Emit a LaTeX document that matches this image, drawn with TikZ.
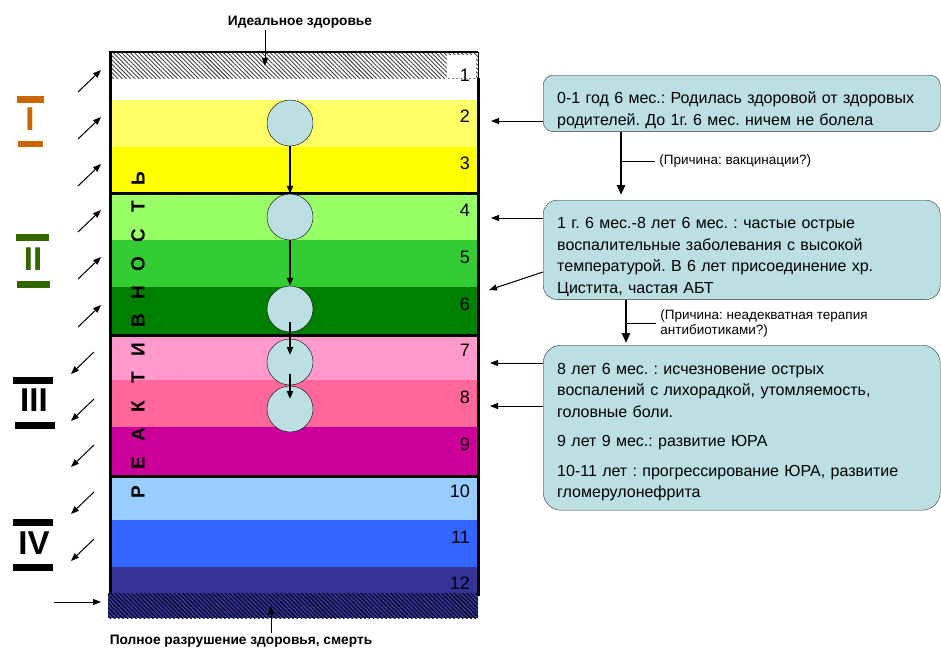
\documentclass[tikz,border=0pt]{standalone}
\usepackage{fontspec}
\setmainfont{Liberation Sans}
\usetikzlibrary{arrows.meta,patterns.meta}
\frenchspacing

\definecolor{celeste}{HTML}{BBDFE2}
\definecolor{fila1}{HTML}{FFFFFF}
\definecolor{fila2}{HTML}{FFFF66}
\definecolor{fila3}{HTML}{FFFF00}
\definecolor{fila4}{HTML}{99FF66}
\definecolor{fila5}{HTML}{33CC33}
\definecolor{fila6}{HTML}{008000}
\definecolor{fila7}{HTML}{FF99CC}
\definecolor{fila8}{HTML}{FF6699}
\definecolor{fila9}{HTML}{CC0099}
\definecolor{fila10}{HTML}{99CCFF}
\definecolor{fila11}{HTML}{3366FF}
\definecolor{fila12}{HTML}{333399}
\definecolor{naranja}{HTML}{CC6600}
\definecolor{verde}{HTML}{336600}

\begin{document}
\begin{tikzpicture}
  [x=1pt,y=-1pt,>={Triangle[length=8pt,width=6pt]},
   caja/.style={draw=black!80,fill=celeste,rounded corners=10pt,anchor=north west,
     align=left,text width=369pt,inner xsep=14pt,font=\fontsize{16}{21.5}\selectfont},
   bola/.style={circle,draw=black,fill=celeste,minimum size=46pt,inner sep=0pt},
   num/.style={anchor=east,inner sep=0pt,font=\fontsize{18}{18}\selectfont},
   letra/.style={rotate=90,inner sep=0pt,font=\bfseries\fontsize{19}{19}\selectfont},
   romano/.style={font=\bfseries\fontsize{33}{33}\selectfont,inner sep=0pt},
   titulo/.style={font=\bfseries\fontsize{13.7}{15}\selectfont,inner sep=2pt},
   causa/.style={anchor=west,align=left,inner sep=4pt,font=\fontsize{13.5}{15}\selectfont},
   flecha/.style={->,line width=1pt},
   gruesa/.style={->,line width=2.5pt,>={Triangle[length=10pt,width=8pt]}}]
  \useasboundingbox (0,0) rectangle (941,648);

  % Franjas de colores
  \foreach \n/\a/\b in {1/78/100,2/100/147,3/147/193,4/193/240,5/240/287,6/287/335,
    7/335/380,8/380/427,9/427/476,10/476/520,11/520/567,12/567/593}
    \fill[fila\n] (110,\a) rectangle (478,\b);

  % Bandas rayadas
  \fill[pattern={Lines[angle=-45,distance=3pt,line width=0.9pt]},pattern color=black!75] (110,52) rectangle (478,78);
  \fill[white] (447,55) rectangle (476,78);
  \fill[fila12] (108,593) rectangle (478,618);
  \fill[pattern={Lines[angle=-45,distance=3pt,line width=0.9pt]},pattern color=black] (108,593) rectangle (478,618);

  % Bordes y separaciones
  \draw[line width=1.5pt] (109,52) -- (478,52);
  \draw[line width=3pt] (110,52) -- (110,594);
  \draw[line width=3pt] (478,78) -- (478,596);
  \draw[line width=0.8pt] (478,52) -- (478,78);
  \foreach \y in {193,335,476}
    \draw[line width=3pt] (112,\y) -- (478,\y);

  % Numeros de las franjas
  \foreach \n/\y in {1/75,2/116,3/163,4/210,5/257,6/304,7/350,8/397,9/444,10/491,11/537,12/583}
    \node[num] (f\n) at (470,\y) {\n};

  % Letras verticales
  \foreach \l [count=\i] in {Р,Е,А,К,Т,И,В,Н,О,С,Т,Ь}
    \node[letra] (l\i) at (138,{492-28.5*(\i-1)}) {\l};

  % Estados del paciente
  \node[bola] (c1) at (290,123) {};
  \node[bola] (c2) at (290,217) {};
  \node[bola] (c3) at (290,309) {};
  \node[bola] (c4) at (290,362) {};
  \node[bola] (c5) at (290,409) {};
  \draw[flecha,line width=1.8pt] (c1) -- (c2);
  \draw[flecha,line width=1.8pt] (c2) -- (c3);
  \draw[flecha,line width=1.8pt] ([yshift=-13pt]c3.center) -- ([yshift=7pt]c4.center);
  \draw[flecha,line width=1.8pt] ([yshift=-12pt]c4.center) -- ([yshift=10pt]c5.center);

  % Numeros romanos
  \fill[naranja] (17,96) rectangle (44,103);
  \fill[naranja] (18,141) rectangle (43,147);
  \node[romano,text=naranja] (r1) at (30,119) {I};
  \fill[verde] (16,234) rectangle (49,241);
  \fill[verde] (17,281) rectangle (50,288);
  \node[romano,text=verde] (r2) at (33,259) {II};
  \fill (13,377) rectangle (53,384);
  \fill (15,422) rectangle (55,429);
  \node[romano] (r3) at (34,400) {III};
  \fill (13,519) rectangle (53,526);
  \fill (13,564) rectangle (53,571);
  \node[romano] (r4) at (34,543) {IV};

  % Flechas de la izquierda
  \foreach \y [count=\i] in {70,117,164,210,257,305} {
    \coordinate (ua\i) at (101,\y);
    \coordinate (ub\i) at (78,\y+22);
    \draw[flecha] (ub\i) -- (ua\i);
  }
  \foreach \y [count=\i] in {352,399,445,492,539} {
    \coordinate (da\i) at (94,\y);
    \coordinate (db\i) at (71,\y+22);
    \draw[flecha] (da\i) -- (db\i);
  }
  \coordinate (h1) at (54,602);
  \coordinate (h2) at (101,602);
  \draw[flecha] (h1) -- (h2);

  % Titulos
  \node[titulo] (ideal) at (300,22) {Идеальное здоровье};
  \coordinate (i1) at (265,66);
  \draw[flecha] (ideal.south -| i1) -- (i1);
  \node[titulo] (fin) at (241,641) {Полное разрушение здоровья, смерть};
  \coordinate (i2) at (271,606);
  \draw[flecha] (fin.north -| i2) -- (i2);

  % Cajas de la derecha
  \node[caja,minimum height=56pt] (b1) at (543,75)
    {\rule{0pt}{25pt}0-1 год 6 мес.: Родилась здоровой от здоровых\\родителей. До 1г. 6 мес. ничем не болела};
  \node[caja,minimum height=97pt,rounded corners=14pt] (b2) at (543,200)
    {\rule{0pt}{25pt}1 г. 6 мес.-8 лет 6 мес. : частые острые\\воспалительные заболевания с высокой\\температурой. В 6 лет присоединение хр.\\Цистита, частая АБТ};
  \node[caja,minimum height=165pt,rounded corners=18pt] (b3) at (543,345)
    {\rule{0pt}{20pt}8 лет 6 мес. : исчезновение острых\\воспалений с лихорадкой, утомляемость,\\головные боли.\\[8pt]9 лет 9 мес.: развитие ЮРА\\[8pt]10-11 лет : прогрессирование ЮРА, развитие\\гломерулонефрита};

  % Flechas hacia las franjas
  \coordinate (p2) at (491,121);
  \draw[flecha] (b1.west |- p2) -- (p2);
  \coordinate (p4) at (491,218);
  \draw[flecha] (b2.west |- p4) -- (p4);
  \coordinate (q2) at (543,272);
  \coordinate (p6) at (489,290);
  \draw[flecha] (q2) -- (p6);
  \coordinate (p7) at (490,363);
  \draw[flecha] (b3.west |- p7) -- (p7);
  \coordinate (p8) at (490,406);
  \draw[flecha] (b3.west |- p8) -- (p8);

  % Causas
  \coordinate (k1) at (621,195);
  \draw[gruesa] (b1.south -| k1) -- (k1);
  \coordinate (t1) at (621,161);
  \draw[line width=0.8pt] (t1) -- ++(34,0) node[causa] (m1) {(Причина: вакцинации?)};
  \coordinate (k2) at (626,343);
  \draw[gruesa] (b2.south -| k2) -- (k2);
  \coordinate (t2) at (626,323);
  \draw[line width=0.8pt] (t2) -- ++(30,0) node[causa] (m2) {(Причина: неадекватная терапия\\антибиотиками?)};
\end{tikzpicture}
\end{document}
